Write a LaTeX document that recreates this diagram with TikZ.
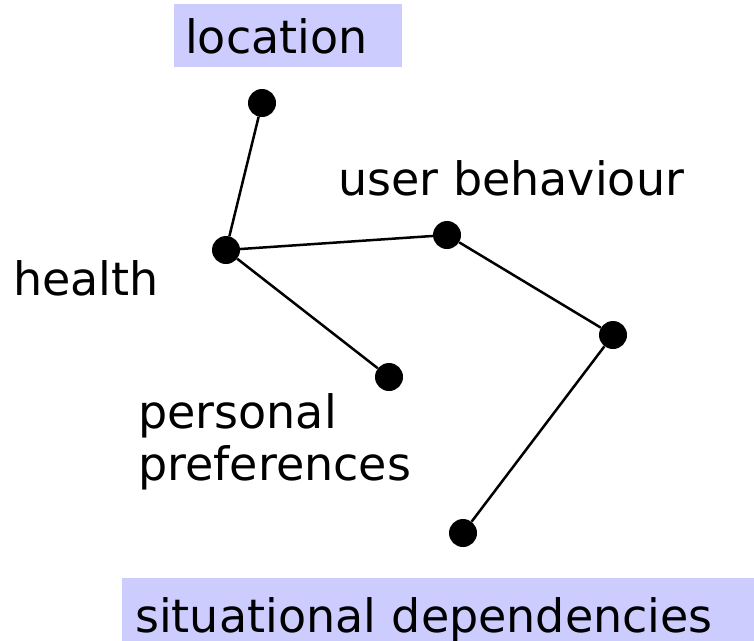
\documentclass[tikz,border=0pt]{standalone}
\usepackage{fontspec}
\setmainfont{DejaVu Sans}
\definecolor{tagblue}{RGB}{204,204,255}
\usetikzlibrary{positioning}

\begin{document}
\begin{tikzpicture}[
  x=1pt, y=-1pt,
  every node/.style={font=\fontsize{46}{52}\selectfont},
  dot/.style={circle, fill=black, inner sep=0pt, minimum size=28pt},
  link/.style={line width=2.5pt},
  word/.style={inner sep=0pt, anchor=base west, align=left},
  tag box/.style={fill=tagblue, inner ysep=0pt, anchor=base west, align=left, text depth=14pt},
]
  \useasboundingbox (0,0) rectangle (754,640);
  \clip (0,0) rectangle (754,640);

  % highlighted labels
  \node[tag box, inner xsep=11pt, text width=206pt, text height=49pt] (loc) at (174,53) {location};
  \node[tag box, inner xsep=13pt, text width=640pt, text height=54pt] (sit) at (122,632) {situational dependencies};

  % plain labels
  \node[word] (usr) at (338,195) {user behaviour};
  \node[word] (hea) at (13,295) {health};
  \node[word] (pref) at (138,480) {personal\\preferences};

  % points
  \node[dot] (dLoc) at (262,103) {};
  \node[dot] (dHealth) at (226,250) {};
  \node[dot] (dUser) at (447,235) {};
  \node[dot] (dBend) at (613,335) {};
  \node[dot] (dPref) at (389,377) {};
  \node[dot] (dSit) at (463,533) {};

  \draw[link] (dLoc) -- (dHealth);
  \draw[link] (dHealth) -- (dUser);
  \draw[link] (dHealth) -- (dPref);
  \draw[link] (dUser) -- (dBend);
  \draw[link] (dBend) -- (dSit);
\end{tikzpicture}
\end{document}
